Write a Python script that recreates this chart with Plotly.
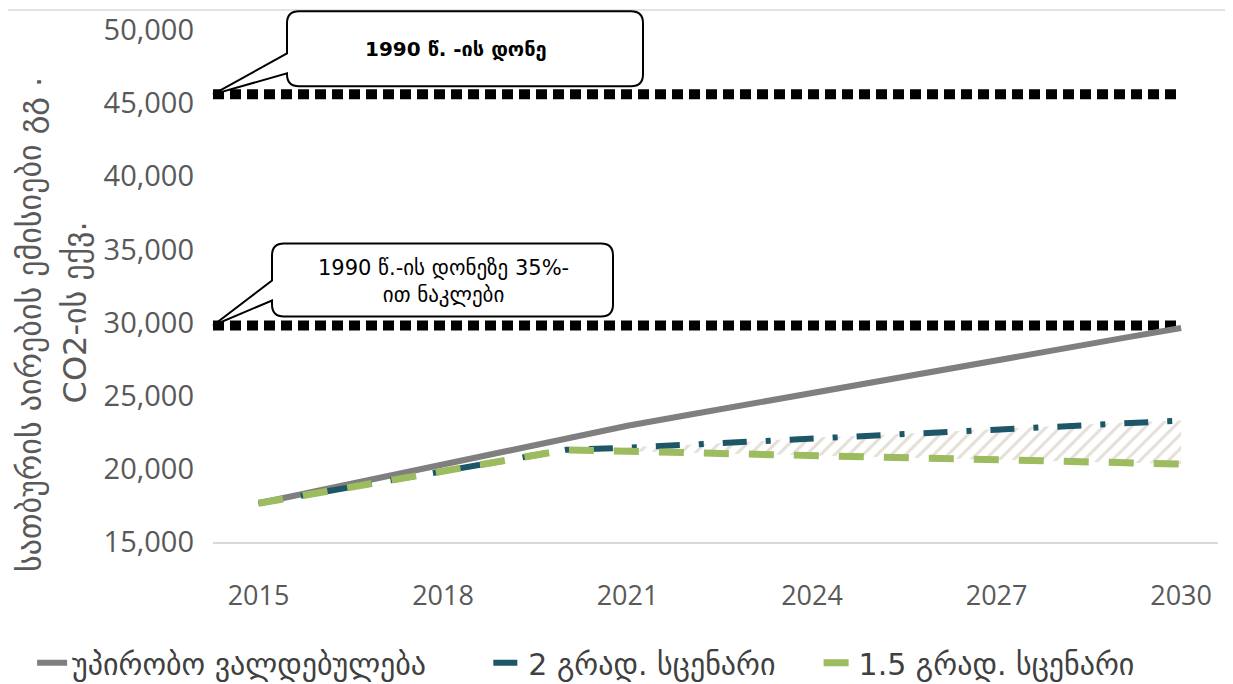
import plotly.graph_objects as go

years = list(range(2015, 2031))
unconditional = [17650, 18520, 19400, 20280, 21180, 22100, 22950, 23700, 24450,
                 25200, 25950, 26700, 27500, 28200, 28900, 29630]
scen_2deg = [17650, 18400, 19150, 19900, 20650, 21300, 21450, 21650, 21850,
             22150, 22300, 22520, 22750, 22950, 23150, 23300]
scen_15deg = [17650, 18400, 19150, 19900, 20650, 21300, 21200, 21100, 21000,
              20900, 20800, 20720, 20650, 20550, 20450, 20330]
level_1990 = 45600
level_35 = 29800
x_start = 2014.26
x_end = 2030.6
y_min, y_max = 15000, 50000

names = ["უპირობო ვალდებულება", "2 გრად. სცენარი", "1.5 გრად. სცენარი"]
callout1 = "<b>1990 წ. -ის დონე</b>"
callout2 = "1990 წ.-ის დონეზე 35%-<br>ით ნაკლები"
ytitle_lines = ["სათბურის აირების ემისიები გგ .", "CO2-ის ექვ."]
xticks = [2015, 2018, 2021, 2024, 2027, 2030]
yticks = [15000, 20000, 25000, 30000, 35000, 40000, 45000, 50000]

fig = go.Figure()

# hatched band between scenarios (2020-2030)
i0 = years.index(2020)
fig.add_trace(go.Scatter(x=years[i0:], y=scen_15deg[i0:], mode="lines",
                         line=dict(width=0), showlegend=False, hoverinfo="skip"))
fig.add_trace(go.Scatter(x=years[i0:], y=scen_2deg[i0:], mode="lines",
                         line=dict(width=0), fill="tonexty",
                         fillcolor="rgba(0,0,0,0)",
                         fillpattern=dict(shape="/", fgcolor="#c9c1b2",
                                          bgcolor="rgba(255,255,255,0)",
                                          size=10, solidity=0.3),
                         showlegend=False, hoverinfo="skip"))

# reference levels
for lvl in (level_1990, level_35):
    fig.add_trace(go.Scatter(x=[x_start, 2030], y=[lvl, lvl], mode="lines",
                             line=dict(color="black", width=10, dash="11px,6px"),
                             showlegend=False, hoverinfo="skip"))

nb = "\u00a0"
fig.add_trace(go.Scatter(x=years, y=unconditional, mode="lines",
                         name=names[0] + nb * 6,
                         line=dict(color="#7f7f7f", width=6)))
fig.add_trace(go.Scatter(x=years, y=scen_2deg, mode="lines",
                         name=names[1] + nb * 4,
                         line=dict(color="#1d5666", width=6,
                                   dash="24px,19px,5px,19px")))
fig.add_trace(go.Scatter(x=years, y=scen_15deg, mode="lines", name=names[2],
                         line=dict(color="#9dbb5f", width=7, dash="25px,20px")))


def callout_path(L, R, T, B, ya, yb, r=12):
    return (f"M 0,0 L {L},{yb} L {L},{B + r} Q {L},{B} {L + r},{B} "
            f"L {R - r},{B} Q {R},{B} {R},{B + r} L {R},{T - r} "
            f"Q {R},{T} {R - r},{T} L {L + r},{T} Q {L},{T} {L},{T - r} "
            f"L {L},{ya} Z")


for lvl, (L, R, T, B, ya, yb) in ((level_1990, (74, 430, 83, 8, 41, 21)),
                                  (level_35, (59, 400, 82, 9, 45, 25))):
    fig.add_shape(type="path", xref="paper", yref="paper", xsizemode="pixel",
                  ysizemode="pixel", xanchor=0,
                  yanchor=(lvl - y_min) / (y_max - y_min),
                  path=callout_path(L, R, T, B, ya, yb),
                  line=dict(color="black", width=2), fillcolor="white",
                  layer="above")

fig.add_annotation(x=x_start, y=level_1990, xref="x", yref="y", text=callout1,
                   showarrow=False, xshift=243, yshift=45,
                   font=dict(size=20, color="black", family="DejaVu Sans"))
fig.add_annotation(x=x_start, y=level_35, xref="x", yref="y", text=callout2,
                   showarrow=False, xshift=230, yshift=44,
                   font=dict(size=21, color="black", family="DejaVu Sans"))

for txt, px, py in ((ytitle_lines[0], -0.182, 0.424),
                    (ytitle_lines[1], -0.137, 0.449)):
    fig.add_annotation(x=px, y=py, xref="paper", yref="paper", text=txt,
                       showarrow=False, textangle=-90, xanchor="center",
                       yanchor="middle",
                       font=dict(size=32, color="#595959",
                                 family="DejaVu Sans"))

fig.add_shape(type="line", xref="paper", yref="paper", x0=-0.212, x1=1.02,
              y0=1.039, y1=1.039, line=dict(color="#e3e3e3", width=2),
              layer="below")

fig.update_layout(
    width=1233, height=684,
    margin=dict(l=205, r=23, t=22, b=150, autoexpand=False),
    paper_bgcolor="white", plot_bgcolor="white",
    font=dict(family="Open Sans", color="#595959"),
    xaxis=dict(range=[x_start, x_end], tickvals=xticks,
               ticktext=[str(v) for v in xticks], showgrid=False,
               zeroline=False, showline=True, linecolor="#d9d9d9",
               linewidth=2, ticks="", ticklabelstandoff=29, automargin=False,
               tickfont=dict(size=27, color="#595959", family="Open Sans")),
    yaxis=dict(range=[y_min, y_max], tickvals=yticks, tickformat=",",
               showgrid=False, zeroline=False, showline=False, ticks="",
               ticklabelstandoff=18, automargin=False,
               tickfont=dict(size=29, color="#595959", family="Open Sans")),
    legend=dict(orientation="h", x=-0.18, xanchor="left", y=-0.236,
                yanchor="middle", traceorder="normal",
                font=dict(size=30, color="#404040", family="DejaVu Sans")),
    showlegend=True,
)

fig.write_html("out.html")
